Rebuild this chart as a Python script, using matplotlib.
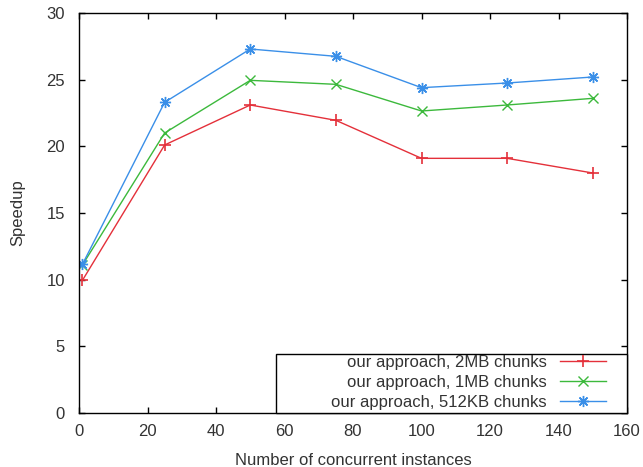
import matplotlib
matplotlib.use('Agg')
import matplotlib.pyplot as plt
from matplotlib import rcParams
from matplotlib.patches import Rectangle

instances = [1, 25, 50, 75, 100, 125, 150]
speedup_2mb = [9.95, 20.1, 23.1, 21.95, 19.1, 19.1, 18.0]
speedup_1mb = [11.1, 21.0, 24.95, 24.65, 22.65, 23.1, 23.6]
speedup_512kb = [11.15, 23.3, 27.3, 26.75, 24.4, 24.75, 25.2]

labels = ['our approach, 2MB chunks',
          'our approach, 1MB chunks',
          'our approach, 512KB chunks']

rcParams['font.family'] = ['Liberation Sans', 'DejaVu Sans']
rcParams['font.size'] = 12
txt = '#333333'

fig = plt.figure(figsize=(6.43, 4.67), dpi=100)
ax = fig.add_axes([79/643, 1 - 413/467, 548/643, 400/467])

ax.plot(instances, speedup_2mb, color='#e4303a', lw=1.0, marker='+',
        ms=8, mew=1.2, label=labels[0])
ax.plot(instances, speedup_1mb, color='#3cb93c', lw=1.0, marker='x',
        ms=6.5, mew=1.0, label=labels[1])
ax.plot(instances, speedup_512kb, color='#3a8fe8', lw=1.0, marker=(8, 2, 0),
        ms=8, mew=1.0, label=labels[2])

ax.set_xlim(0, 160)
ax.set_ylim(0, 30)
ax.set_xticks(range(0, 161, 20))
ax.set_yticks(range(0, 31, 5))
ax.tick_params(which='both', direction='in', top=True, right=True,
               length=4.5, width=1, colors='black', labelcolor=txt)
ax.tick_params(axis='y', pad=10)
ax.tick_params(axis='x', pad=8)
for s in ax.spines.values():
    s.set_linewidth(1)

ax.set_xlabel('Number of concurrent instances', color=txt, labelpad=10)
ax.set_ylabel('Speedup', color=txt, labelpad=15)

# key box, gnuplot style: wide left margin, entries right-aligned
ax.add_patch(Rectangle((0.3595, 0), 1 - 0.3595, 0.1475, transform=ax.transAxes,
                       facecolor='white', edgecolor='black', lw=1,
                       zorder=4.9, clip_on=False))
leg = ax.legend(loc='lower right', bbox_to_anchor=(0.962, 0.007),
                markerfirst=False, frameon=False, borderaxespad=0,
                handlelength=2.8, handletextpad=0.75, labelspacing=0.32,
                borderpad=0, fontsize=12)
for t in leg.get_texts():
    t.set_color(txt)
for col in leg._legend_handle_box.get_children():
    col.align = 'right'

plt.savefig('out.png', dpi=100)
